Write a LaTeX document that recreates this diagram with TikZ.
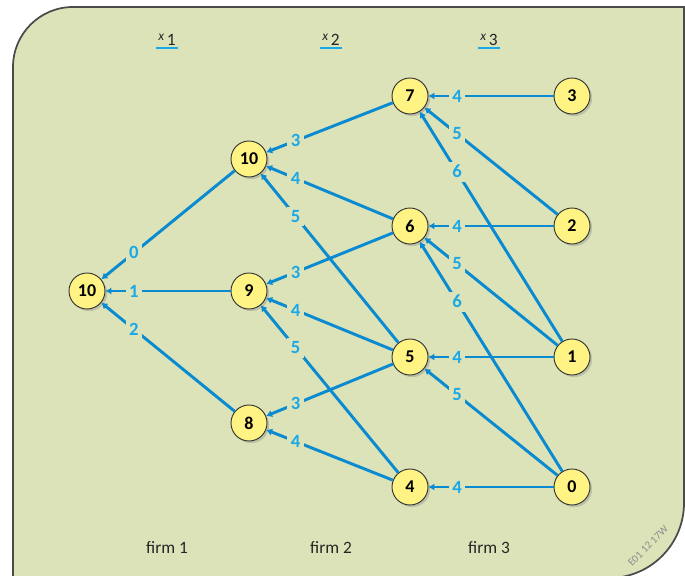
\documentclass[tikz,border=0pt]{standalone}
\usepackage{fontspec}
\setmainfont{Carlito}
\usetikzlibrary{arrows.meta,calc,shadows}
\definecolor{paper}{HTML}{DDE3B9}
\definecolor{wire}{HTML}{0A8AD0}
\definecolor{num}{HTML}{19A8E8}
\definecolor{yolk}{HTML}{FFF384}
\definecolor{frame}{HTML}{4A4A4A}

\begin{document}
\begin{tikzpicture}[x=0.75pt,y=0.75pt,
  state/.style={circle,draw=black!80,line width=0.7pt,fill=yolk,minimum size=27pt,inner sep=0pt,
    font=\fontsize{13.5}{15}\selectfont\bfseries,
    drop shadow={shadow xshift=1.6pt,shadow yshift=-1.6pt,opacity=.35}},
  cost/.style={fill=paper,inner sep=2.8pt,text=num,font=\fontsize{14}{16}\selectfont\bfseries},
  link/.style={draw=wire,line width=2.2pt,{Latex[length=4.5pt,width=5.5pt]}-},
  stage/.style={inner sep=1.2pt,text=black!85,font=\fontsize{13}{15}\selectfont}]
  \useasboundingbox (0,0) rectangle (685,575);
  \draw[frame,fill=paper,line width=1.3pt] (13,-3) -- (13,508) arc[start angle=180,end angle=90,radius=60]
    -- (684,568) -- (684,72) arc[start angle=0,end angle=-90,radius=75] -- cycle;

  \node[state] (s0) at (87,284) {10};
  \foreach \n/\y in {10/416,9/284,8/152} \node[state] (a\n) at (249,\y) {\n};
  \foreach \n/\y in {7/479,6/349,5/218,4/88} \node[state] (b\n) at (410,\y) {\n};
  \foreach \n/\y in {3/479,2/349,1/218,0/88} \node[state] (c\n) at (572,\y) {\n};

  \foreach \u/\v/\c in {s0/a10/0,s0/a9/1,s0/a8/2,
      a10/b7/3,a10/b6/4,a10/b5/5,a9/b6/3,a9/b5/4,a9/b4/5,a8/b5/3,a8/b4/4,
      b7/c3/4,b7/c2/5,b7/c1/6,b6/c2/4,b6/c1/5,b6/c0/6,b5/c1/4,b5/c0/5,b4/c0/4}
    \draw[link] (\u) -- (\v);
  \foreach \u/\v/\c in {s0/a10/0,s0/a9/1,s0/a8/2,
      a10/b7/3,a10/b6/4,a10/b5/5,a9/b6/3,a9/b5/4,a9/b4/5,a8/b5/3,a8/b4/4,
      b7/c3/4,b7/c2/5,b7/c1/6,b6/c2/4,b6/c1/5,b6/c0/6,b5/c1/4,b5/c0/5,b4/c0/4}
    \node[cost] (k\u\v) at ($(\u)!.29!(\v)$) {\c};

  \foreach \i/\x in {1/167,2/331,3/489}{
    \node[stage] (x\i) at (\x,535) {\raisebox{4pt}{\fontsize{10}{12}\selectfont\itshape x}\,\i};
    \draw[num,line width=1.6pt] (x\i.south west) -- (x\i.south east);
    \node[stage] (f\i) at (\x,27) {firm \i};
  }
  \node[rotate=45,text=black!45,inner sep=0pt,font=\fontsize{8}{9}\selectfont] (tag) at (648,29) {E01 12 17W};
\end{tikzpicture}
\end{document}
